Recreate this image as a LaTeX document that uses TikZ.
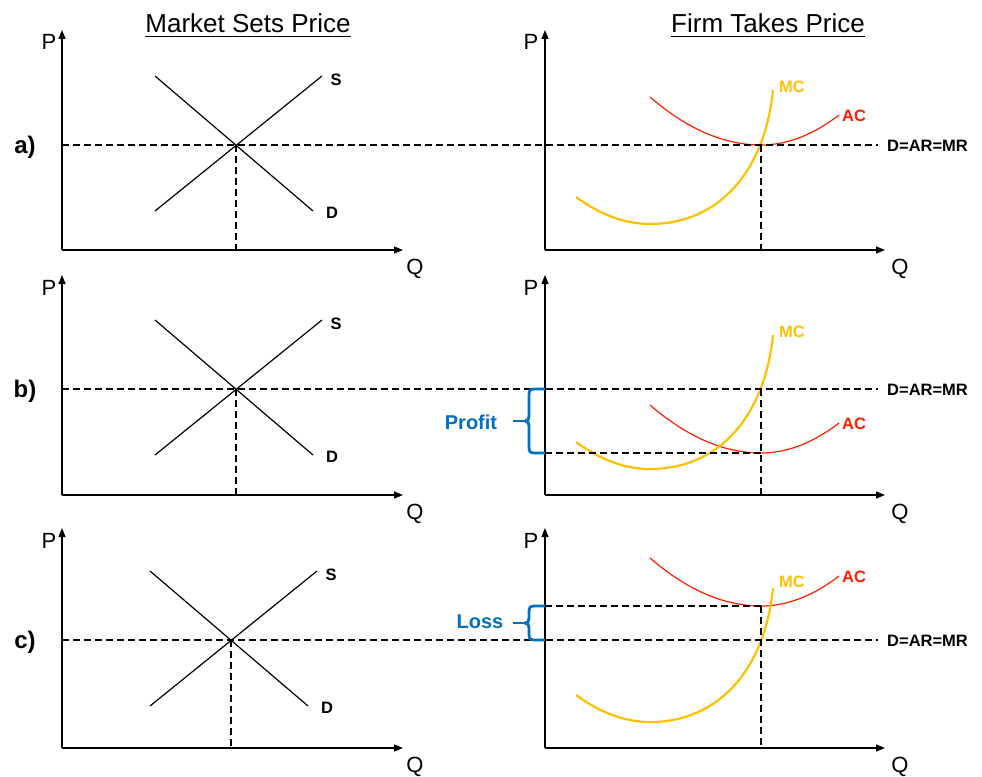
\documentclass[tikz,border=0pt]{standalone}
\usepackage{fontspec}
\setmainfont{Liberation Sans}
\usetikzlibrary{arrows.meta}
\definecolor{mcyellow}{RGB}{255,192,0}
\definecolor{acred}{RGB}{255,30,0}
\definecolor{brblue}{RGB}{0,112,192}
\tikzset{
  axisline/.style={line width=1.3pt,-{Triangle[length=9pt,width=7pt]}},
  sdline/.style={line width=1.2pt},
  dline/.style={line width=1.7pt,dash pattern=on 7pt off 4pt},
  mcline/.style={line width=2.2pt,draw=mcyellow},
  acline/.style={line width=1.2pt,draw=acred},
  bracestyle/.style={line width=2.8pt,draw=brblue},
  axlab/.style={font=\fontsize{22}{24}\selectfont,inner sep=0pt,anchor=base},
  titlelab/.style={font=\fontsize{26}{30}\selectfont,inner sep=0pt,anchor=base},
  curvelab/.style={font=\bfseries\fontsize{16.5}{18}\selectfont,inner sep=0pt},
  rowlab/.style={font=\bfseries\fontsize{24}{26}\selectfont,inner sep=0pt},
  bracelab/.style={font=\bfseries\fontsize{20}{22}\selectfont,inner sep=0pt,text=brblue}
}
% #1 prefix, #2 y offset, #3 left equilibrium x, #4 price level, #5 AC minimum, #6 MC label y, #7 row label
\newcommand\econpanel[7]{%
\begin{scope}[shift={(0,#2)}]
  % left market diagram
  \coordinate (#1LO) at (62,250);
  \coordinate (#1LY) at (62,30);
  \coordinate (#1LX) at (403,250);
  \draw[axisline] (#1LO) -- (#1LY);
  \draw[axisline] (#1LO) -- (#1LX);
  \node[axlab] (#1LP) at (49,50) {P};
  \node[axlab] (#1LQ) at (415,274) {Q};
  \coordinate (#1E) at (#3,#4);
  \coordinate (#1Sa) at (#3-81,#4+66);
  \coordinate (#1Sb) at (#3+86,#4-69);
  \coordinate (#1Da) at (#3-81,#4-69);
  \coordinate (#1Db) at (#3+77,#4+66);
  \draw[sdline] (#1Sa) -- (#1Sb);
  \draw[sdline] (#1Da) -- (#1Db);
  \node[curvelab] (#1Slab) at (#3+100,#4-65) {S};
  \node[curvelab] (#1Dlab) at (#3+96,#4+68) {D};
  \coordinate (#1EQ) at (#3,250);
  \draw[dline] (#1E) -- (#1EQ);
  \node[rowlab] (#1row) at (25,#4+2) {#7};
  % right firm diagram
  \coordinate (#1RO) at (545,250);
  \coordinate (#1RY) at (545,30);
  \coordinate (#1RX) at (885,250);
  \draw[axisline] (#1RO) -- (#1RY);
  \draw[axisline] (#1RO) -- (#1RX);
  \node[axlab] (#1RP) at (531,50) {P};
  \node[axlab] (#1RQ) at (900,274) {Q};
  \coordinate (#1ACa) at (650,#5-48);
  \coordinate (#1ACm) at (761,#5);
  \coordinate (#1ACb) at (839,#5-30);
  \draw[acline] (#1ACa) .. controls (687,#5-16) and (724,#5) .. (#1ACm)
                      .. controls (787,#5) and (813,#5-10) .. (#1ACb);
  \node[curvelab,text=acred,anchor=west] (#1AClab) at (842,#5-29) {AC};
  \coordinate (#1MCa) at (576,197);
  \coordinate (#1MCm) at (650,224);
  \coordinate (#1MCb) at (773,90);
  \draw[mcline] (#1MCa) .. controls (600.7,215) and (625.3,224) .. (#1MCm)
                      .. controls (720,224) and (765,170) .. (#1MCb);
  \node[curvelab,text=mcyellow,anchor=west] (#1MClab) at (779,#6) {MC};
  % price line across both diagrams
  \coordinate (#1PLa) at (62,#4);
  \coordinate (#1PLb) at (878,#4);
  \draw[dline] (#1PLa) -- (#1PLb);
  \node[curvelab,anchor=west] (#1DAR) at (887,#4+1) {D=AR=MR};
  \coordinate (#1Qt) at (761,{min(#4,#5)});
  \coordinate (#1Qb) at (761,250);
  \draw[dline] (#1Qt) -- (#1Qb);
\end{scope}}

\begin{document}
\begin{tikzpicture}[x=1pt,y=-1pt]
  \useasboundingbox (0,0) rectangle (982,776);
  % titles
  \node[titlelab] (t1) at (248,33) {Market Sets Price};
  \node[titlelab] (t2) at (768,33) {Firm Takes Price};
  \draw[line width=1.6pt] ([yshift=-3.5pt]t1.base west) -- ([yshift=-3.5pt]t1.base east);
  \draw[line width=1.6pt] ([yshift=-3.5pt]t2.base west) -- ([yshift=-3.5pt]t2.base east);

  \econpanel{a}{0}{236}{145}{145}{87}{a)}
  \econpanel{b}{245}{236}{144}{208}{87}{b)}
  \econpanel{c}{498}{231}{142}{108}{84}{c)}

  % panel b: profit
  \begin{scope}[shift={(0,245)}]
    \coordinate (bACl) at (545,208);
    \draw[dline] (bACl) -- (bACm);
    \coordinate (bBt) at (545,144);
    \coordinate (bBb) at (545,208);
    \coordinate (bBs) at (513,176);
    \coordinate (bBm) at (525,176);
    \draw[bracestyle] (bBt) -- (535,144) .. controls (530,144) and (529,145) .. (529,150)
        -- (529,171) .. controls (529,174) and (528,176) .. (bBm)
        .. controls (528,176) and (529,178) .. (529,181)
        -- (529,202) .. controls (529,207) and (530,208) .. (535,208) -- (bBb);
    \draw[bracestyle] (bBs) -- (bBm);
    \node[bracelab] (profit) at (471,177) {Profit};
  \end{scope}

  % panel c: loss
  \begin{scope}[shift={(0,498)}]
    \coordinate (cACl) at (545,108);
    \draw[dline] (cACl) -- (cACm);
    \coordinate (cBt) at (545,108);
    \coordinate (cBb) at (545,142);
    \coordinate (cBs) at (513,125);
    \coordinate (cBm) at (525,125);
    \draw[bracestyle] (cBt) -- (535,108) .. controls (530,108) and (529,109) .. (529,114)
        -- (529,120) .. controls (529,123) and (528,125) .. (cBm)
        .. controls (528,125) and (529,127) .. (529,130)
        -- (529,136) .. controls (529,141) and (530,142) .. (535,142) -- (cBb);
    \draw[bracestyle] (cBs) -- (cBm);
    \node[bracelab] (loss) at (480,124) {Loss};
  \end{scope}
\end{tikzpicture}
\end{document}
